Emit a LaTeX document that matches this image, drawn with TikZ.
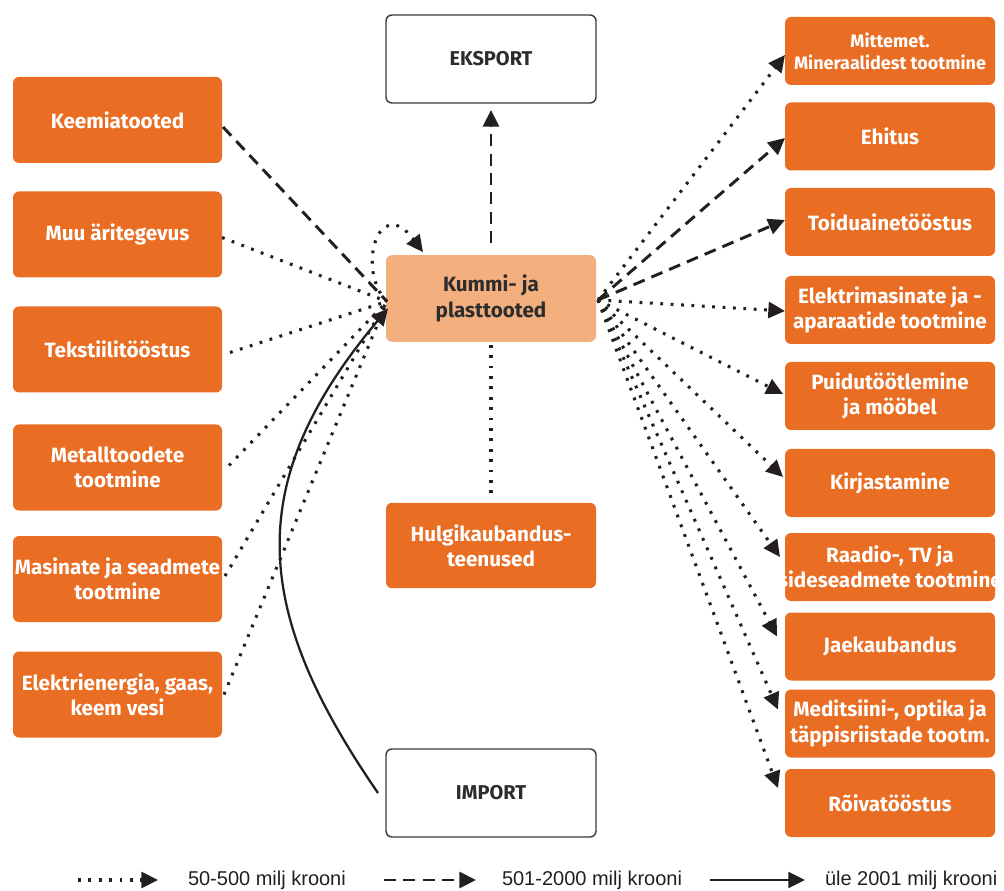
\documentclass[tikz,border=0pt]{standalone}
\usepackage{fontspec}
\setmainfont{Fira Sans}
\newfontfamily\legendfont{Liberation Sans}
\usetikzlibrary{arrows.meta,calc}
\definecolor{boxorange}{RGB}{233,109,34}
\definecolor{hubfill}{RGB}{243,175,125}
\definecolor{ink}{RGB}{35,31,32}
\definecolor{darktext}{RGB}{45,45,45}
\definecolor{frame}{RGB}{60,60,60}
\begin{document}
\begin{tikzpicture}[x=0.75pt,y=-0.75pt,
  every node/.style={inner sep=0pt, outer sep=0pt},
  boxtext/.style={font=\bfseries\fontsize{15.5}{19}\selectfont, align=center},
  sector/.style={boxtext, rectangle, rounded corners=4.5pt, fill=boxorange, text=white},
  leftbox/.style={sector, minimum width=156.75pt, minimum height=64.5pt},
  rightbox/.style={sector, minimum width=157.5pt, minimum height=51pt},
  tradebox/.style={boxtext, rectangle, rounded corners=4.5pt, fill=white, draw=frame,
    line width=1.1pt, text=darktext, font=\bfseries\fontsize{15}{18}\selectfont,
    minimum width=157.5pt, minimum height=66pt},
  hubbox/.style={boxtext, rectangle, rounded corners=4.5pt, fill=hubfill, text=darktext,
    minimum width=157.5pt, minimum height=65pt},
  flowdot/.style={draw=ink, line width=2.3pt, line cap=butt, dash pattern=on 2.1pt off 5.7pt},
  flowdash/.style={draw=ink, line width=2.2pt, dash pattern=on 9pt off 5.5pt},
  flowsolid/.style={draw=ink, line width=1.7pt},
  head/.style={-{Triangle[length=12.5pt,width=12pt]}},
  legendtxt/.style={font=\legendfont\fontsize{15}{18}\selectfont, text=ink, anchor=west}
]
\useasboundingbox (0,0) rectangle (1004,891);

% left column: supplying industries
\node[leftbox] (keemia) at (117.5,120)   {Keemiatooted};
\node[leftbox] (muu)    at (117.5,234.5) {Muu äritegevus};
\node[leftbox] (tekst)  at (117.5,349.5) {Tekstiilitööstus};
\node[leftbox] (metall) at (117.5,467.5) {Metalltoodete\\tootmine};
\node[leftbox] (masin)  at (117.5,579)   {\makebox[0pt]{Masinate ja seadmete}\\tootmine};
\node[leftbox] (elekt)  at (117.5,694.5) {Elektrienergia, gaas,\\keem vesi};

% centre column
\node[tradebox] (eksport) at (491,59)    {EKSPORT};
\node[hubbox]   (kummi)   at (491,298.5) {Kummi- ja\\plasttooted};
\node[sector, minimum width=157.5pt, minimum height=64pt] (hulgi) at (491,545.5) {Hulgikaubandus-\\teenused};
\node[tradebox] (import)  at (491,793)   {IMPORT};

% right column: using industries
\node[rightbox, font=\bfseries\fontsize{13.5}{16.5}\selectfont] (mitte) at (890,51) {Mittemet.\\\makebox[0pt]{Mineraalidest tootmine}};
\node[rightbox] (ehitus) at (890,136.5) {Ehitus};
\node[rightbox] (toidu)  at (890,222)   {Toiduainetööstus};
\node[rightbox] (elmas)  at (890,310)   {Elektrimasinate ja -\\aparaatide tootmine};
\node[rightbox] (puidu)  at (890,396)   {Puidutöötlemine\\ja mööbel};
\node[rightbox] (kirja)  at (890,483)   {Kirjastamine};
\node[rightbox] (raadio) at (890,567)   {Raadio-, TV ja\\\makebox[0pt]{sideseadmete tootmine}};
\node[rightbox] (jaek)   at (890,646.5) {Jaekaubandus};
\node[rightbox] (medit)  at (890,723.5) {\makebox[0pt]{Meditsiini-, optika ja}\\\makebox[0pt]{täppisriistade tootm.}};
\node[rightbox] (roiva)  at (890,803)   {Rõivatööstus};

% meeting points on the hub
\coordinate (hubL) at ($(kummi.west)+(1,3)$);
\coordinate (hubR) at ($(kummi.east)+(2,1.5)$);
\coordinate (hubI) at ($(kummi.west)+(2,10)$);
\coordinate (loopEnd) at ($(kummi.north west)+(37,-3)$);

% inflows from the left column
\draw[flowdash] ($(keemia.east)+(1,7)$) -- (hubL);
\draw[flowdot]  ($(muu.east)+(0,3)$)    -- (hubL);
\draw[flowdot]  ($(tekst.east)+(8,3)$)  -- (hubL);
\draw[flowdot]  ($(metall.east)+(7,-2)$) -- (hubL);
\draw[flowdot]  ($(masin.east)+(3,-3)$) -- (hubL);
\draw[flowdot]  ($(elekt.east)+(2,0)$)  -- (hubL);

% own use
\draw[flowdot, head] (hubL) .. controls +(-31,-30) and +(-45,-60) .. (loopEnd);

% imports
\draw[flowsolid, head] ($(import.west)+(-8,0)$) .. controls +(-124,-180) and +(-148,176) .. (hubI);

% exports and wholesale
\draw[flowdash, head] ($(kummi.north)+(0,-12)$) -- ($(eksport.south)+(0,7)$);
\draw[flowdot] ($(kummi.south)+(0,3)$) -- ($(hulgi.north)+(0,-8)$);

% outflows to the right column
\draw[flowdot, head]  (hubR) -- ($(mitte.west)+(0,4)$);
\draw[flowdash, head] (hubR) -- ($(ehitus.west)+(0,1.5)$);
\draw[flowdash, head] (hubR) -- ($(toidu.west)+(0,-2)$);
\draw[flowdot, head]  (hubR) -- ($(elmas.west)+(0,1)$);
\draw[flowdot, head]  (hubR) -- ($(puidu.west)+(-2,-2)$);
\draw[flowdot, head]  (hubR) -- ($(kirja.west)+(-2,-6)$);
\draw[flowdot, head]  (hubR) -- ($(raadio.west)+(-5,-10)$);
\draw[flowdot, head]  (hubR) -- ($(jaek.west)+(-8,-10)$);
\draw[flowdot, head]  (hubR) -- ($(medit.west)+(-7,-14)$);
\draw[flowdot, head]  (hubR) -- ($(roiva.west)+(-7,-15)$);

% legend
\coordinate (l1a) at (78,880);  \coordinate (l1b) at (158,880);
\coordinate (l2a) at (384,880); \coordinate (l2b) at (476,880);
\coordinate (l3a) at (710,880); \coordinate (l3b) at (805,880);
\draw[flowdot, head]   (l1a) -- (l1b);
\draw[flowdash, head]  (l2a) -- (l2b);
\draw[flowsolid, head] (l3a) -- (l3b);
\node[legendtxt] (l1t) at (188,880) {50-500 milj krooni};
\node[legendtxt] (l2t) at (502,880) {501-2000 milj krooni};
\node[legendtxt] (l3t) at (825,880) {üle 2001 milj krooni};
\end{tikzpicture}
\end{document}
